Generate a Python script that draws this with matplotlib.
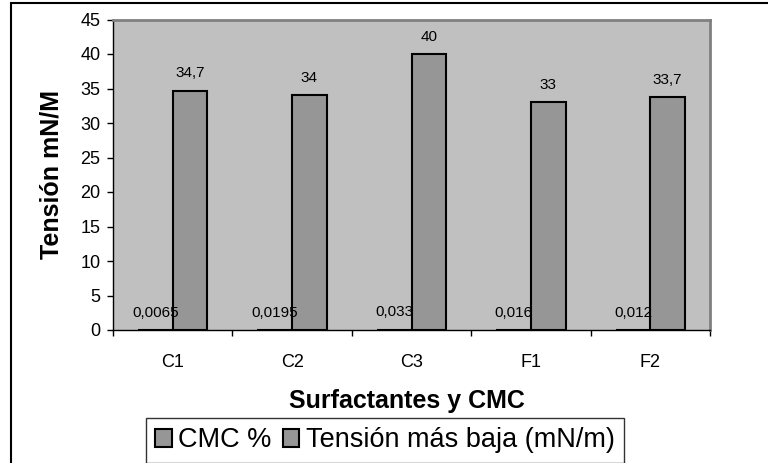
import matplotlib
matplotlib.use("Agg")
import matplotlib.pyplot as plt
from matplotlib.patches import Rectangle
import numpy as np

plt.rcParams['font.family'] = ['Liberation Sans', 'DejaVu Sans']

# Datos
categorias = ["C1", "C2", "C3", "F1", "F2"]
cmc = [0.0065, 0.0195, 0.033, 0.016, 0.012]
tension = [34.7, 34, 40, 33, 33.7]
series = ["CMC %", "Tensión más baja (mN/m)"]

def etiqueta(v):
    return f"{v:g}".replace('.', ',')

fig = plt.figure(figsize=(7.68, 4.63), dpi=100)
ax = fig.add_axes([113/768, 1 - 330/463, 597/768, (330 - 19.5)/463])
ax.set_facecolor('#C0C0C0')

x = np.arange(len(categorias))
ancho = 0.29
b1 = ax.bar(x - ancho/2, cmc, ancho, color='#969696', edgecolor='black', linewidth=1.5, label=series[0])
b2 = ax.bar(x + ancho/2, tension, ancho, color='#969696', edgecolor='black', linewidth=1.5, label=series[1])

# Etiquetas de datos
for barras, vals in ((b1, cmc), (b2, tension)):
    for b, v in zip(barras, vals):
        ax.annotate(etiqueta(v), (b.get_x() + b.get_width()/2, v),
                    xytext=(0, 12.5), textcoords='offset points',
                    ha='center', va='center', fontsize=11)

ax.set_xlim(-0.5, len(categorias) - 0.5)
ax.set_ylim(0, 45)
ax.set_yticks(range(0, 46, 5))
ax.tick_params(axis='y', direction='out', length=4, width=1, labelsize=13, pad=5)

# Ticks en los limites de categorias, etiquetas en el centro
ax.set_xticks(np.arange(-0.5, len(categorias), 1))
ax.set_xticklabels([])
ax.set_xticks(x, minor=True)
ax.set_xticklabels(categorias, minor=True, fontsize=13)
ax.tick_params(axis='x', which='major', direction='out', length=4, width=1)
ax.tick_params(axis='x', which='minor', length=0, pad=17)

for lado in ('top', 'right'):
    ax.spines[lado].set_color('#808080')
    ax.spines[lado].set_linewidth(2)
for lado in ('left', 'bottom'):
    ax.spines[lado].set_color('black')
    ax.spines[lado].set_linewidth(1)

ax.set_ylabel("Tensión mN/M", fontsize=18, fontweight='bold')
ax.yaxis.set_label_coords(-0.083, 0.5)
ax.set_xlabel("Surfactantes y CMC", fontsize=18, fontweight='bold')
ax.xaxis.set_label_coords(0.492, -0.19)

leg = fig.legend(handles=[b1, b2], labels=series, loc='upper left',
                 bbox_to_anchor=(146/768, 1 - 418/463), ncol=2, fontsize=19.5,
                 frameon=True, fancybox=False, shadow=False,
                 handlelength=0.6, handleheight=0.6, handletextpad=0.25,
                 columnspacing=0.4, borderpad=0.35, borderaxespad=0)
leg.get_frame().set_edgecolor('black')
leg.get_frame().set_linewidth(1)

# Borde exterior del grafico
fig.patches.append(Rectangle((11/768, -0.1), 2, 1.1 - 3/463, transform=fig.transFigure,
                             fill=False, edgecolor='black', linewidth=1.5))

fig.savefig("out.png", dpi=100)
